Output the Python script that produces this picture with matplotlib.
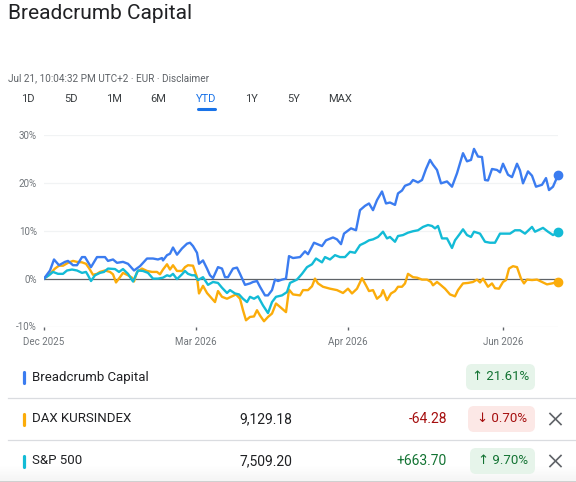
import numpy as np
import matplotlib
matplotlib.use("Agg")
import matplotlib.pyplot as plt
from matplotlib.patches import FancyBboxPatch

plt.rcParams['font.family'] = ['Roboto', 'DejaVu Sans']

# ---- data (session index, % change since start) ----
blue_x = [0, 6, 10, 15, 21, 24, 29, 33, 38, 41,
          47, 53, 61, 64, 69, 73, 79, 84, 90, 96,
          103, 109, 114, 118, 119, 123, 126, 129, 133, 138,
          143, 146, 149, 153, 155, 159, 163, 166, 169, 174,
          178, 181, 184, 189, 193, 196, 201, 206, 209, 213,
          216, 221, 224, 228, 231, 234, 238, 242, 245, 249,
          256, 261, 264, 270, 278, 282, 289, 293, 297, 300,
          307, 312, 316, 321, 325, 329, 333, 338, 342, 346,
          351, 354, 358, 361, 366, 369, 374, 378, 382, 386,
          389, 393, 397, 403, 408, 413, 419, 423, 427, 430,
          434, 438, 441, 444, 448, 453, 456, 459, 464, 468,
          473, 476, 479, 484, 488, 492, 498, 502, 505, 509,
          514]
blue_y = [0, 1.7, 4.0, 2.8, 3.5, 3.7, 2.8, 2.8, 4.5, 4.5,
          2.4, 4.5, 4.5, 3.7, 4.0, 3.3, 3.5, 3.1, 1.7, 2.6,
          4.2, 4.2, 4.0, 4.3, 3.8, 4.9, 5.2, 6.5, 5.0, 6.3,
          7.3, 7.5, 6.8, 5.4, 3.1, 3.8, 2.1, 0.7, 0.1, 2.4,
          2.1, 0.3, 0.3, 2.1, 2.3, 1.0, -1.3, -1.0, -0.7, -0.5,
          -1.7, -3.5, -3.5, -2.4, -0.2, -0.5, -0.2, 0, 4.7, 4.3,
          4.5, 5.7, 5.1, 7.5, 6.8, 8.0, 8.6, 8.2, 7.2, 9.4,
          10.5, 10.1, 14.3, 15.2, 15.7, 14.3, 16.4, 18.2, 15.7, 15.9,
          15.4, 17.8, 18.4, 19.4, 19.8, 20.6, 20.1, 20.6, 22.9, 24.8,
          23.8, 22.7, 19.9, 20.3, 19.2, 22.0, 26.2, 24.5, 24.8, 27.1,
          25.5, 25.4, 20.6, 20.5, 22.9, 22.7, 22.2, 24.0, 21.7, 21.2,
          24.0, 22.6, 19.9, 22.4, 21.5, 19.2, 19.6, 21.0, 18.5, 19.2,
          21.61]

dax_x = [0, 6, 11, 15, 19, 24, 29, 33, 38, 42,
         45, 49, 53, 56, 61, 66, 69, 72, 76, 79,
         84, 88, 90, 93, 98, 103, 108, 113, 116, 119,
         123, 126, 129, 133, 138, 141, 144, 149, 153, 155,
         159, 163, 168, 171, 174, 178, 183, 188, 192, 196,
         199, 202, 206, 210, 213, 216, 220, 224, 228, 232,
         236, 242, 245, 249, 256, 259, 264, 268, 271, 274,
         279, 286, 293, 299, 304, 308, 313, 318, 322, 325,
         329, 333, 337, 339, 343, 347, 351, 354, 358, 361,
         364, 369, 373, 378, 383, 387, 389, 393, 396, 401,
         406, 411, 414, 419, 424, 429, 433, 436, 439, 442,
         444, 448, 451, 455, 459, 462, 465, 469, 473, 477,
         480, 483, 488, 493, 498, 503, 508, 514]
dax_y = [0, 1.0, 2.1, 2.7, 2.7, 3.3, 3.7, 3.5, 3.4, 3.1,
         2.2, 0.8, 1.0, 1.4, 1.7, 1.4, 0.9, -0.8, 0.3, 1.2,
         0.7, 0.2, -0.6, 1.4, 2.1, 1.6, 1.4, 1.4, 0.9, 1.9,
         3.0, 1.9, 2.8, 1.6, 1.6, 2.4, 2.8, 2.7, 0.3, -3.1,
         -1.5, -3.0, -4.2, -4.9, -2.6, -3.8, -4.2, -3.7, -3.3, -4.2,
         -6.6, -8.7, -8.0, -7.9, -6.6, -7.7, -8.9, -8.0, -7.3, -5.2,
         -5.9, -7.0, -2.3, -3.3, -3.5, -2.4, -2.4, -1.6, 0, -1.0,
         -1.7, -2.1, -2.4, -3.0, -2.1, -3.1, -2.1, 0.1, -1.4, -2.6,
         -2.4, -4.2, -3.5, -2.4, -4.5, -3.1, -2.6, -1.7, -1.7, -1.0,
         1.0, 0.3, 0.2, -0.2, -0.2, -0.7, -1.4, -0.7, -1.2, -2.1,
         -3.3, -3.7, -2.4, -1.0, -0.9, -0.7, -0.2, -0.8, 0, -1.0,
         -1.7, -1.0, -2.0, -2.1, -0.7, -0.3, 2.1, 2.6, 2.4, 0,
         -1.0, -0.2, -0.3, -0.2, -0.7, -1.2, -1.0, -0.70]

sp_x = [0, 5, 9, 14, 19, 23, 28, 33, 38, 42,
        44, 47, 51, 56, 60, 64, 71, 75, 79, 84,
        89, 94, 99, 104, 109, 114, 119, 123, 126, 129,
        133, 138, 141, 144, 148, 151, 154, 159, 164, 169,
        174, 178, 183, 186, 191, 195, 199, 203, 206, 210,
        214, 219, 224, 228, 232, 238, 243, 246, 253, 258,
        263, 268, 272, 278, 281, 286, 291, 296, 301, 306,
        311, 316, 321, 325, 329, 334, 339, 343, 346, 351,
        354, 359, 364, 369, 374, 379, 384, 388, 391, 394,
        398, 403, 408, 411, 416, 419, 423, 427, 430, 436,
        441, 446, 451, 456, 461, 466, 471, 476, 481, 488,
        491, 494, 499, 504, 509, 514]
sp_y = [0, 0.7, 1.4, 1.0, 1.0, 1.7, 1.9, 1.7, 1.2, 1.4,
        0.7, -0.5, 0.7, 1.2, 1.4, 2.1, 2.0, 1.4, 2.0, 1.0,
        -0.6, 1.7, 1.6, 1.2, 0, 0, 0.2, 0.7, 0.5, 1.0,
        -0.1, 0.9, 1.6, 1.0, 0.7, 0.7, -0.3, 0.3, -1.3, -0.7,
        -0.9, -1.9, -3.0, -2.4, -3.1, -3.3, -4.2, -4.9, -3.8, -4.2,
        -3.7, -5.6, -7.2, -4.9, -3.8, -3.5, -2.8, -0.9, -0.2, 1.0,
        2.4, 3.0, 4.2, 3.4, 4.5, 4.0, 4.9, 4.5, 4.5, 5.6,
        5.4, 7.0, 7.5, 8.0, 8.2, 8.7, 9.8, 8.4, 8.7, 7.7,
        8.9, 9.1, 9.6, 9.9, 10.1, 10.8, 11.2, 11.0, 10.5, 11.0,
        8.4, 8.4, 6.4, 8.0, 9.4, 10.3, 9.1, 8.7, 9.8, 9.4,
        7.7, 7.5, 7.5, 9.4, 9.4, 9.4, 10.1, 10.1, 9.4, 10.8,
        9.8, 10.1, 10.6, 9.8, 9.1, 9.70]

tick_pos = [0, 152, 304, 459]
tick_labels = ["Dec 2025", "Mar 2026", "Apr 2026", "Jun 2026"]
y_ticks = [-10, 0, 10, 20, 30]

tabs = ["1D", "5D", "1M", "6M", "YTD", "1Y", "5Y", "MAX"]
tab_x = [28, 71, 114, 158, 206, 251, 294, 340]

names = ["Breadcrumb Capital", "DAX KURSINDEX", "S&P 500"]
prices = ["", "9,129.18", "7,509.20"]
changes = ["", "-64.28", "+663.70"]
pcts = ["\u2191 21.61%", "\u2193 0.70%", "\u2191 9.70%"]
ups = [True, False, True]

BLUE = "#3b7cf0"
YELLOW = "#fbac0a"
CYAN = "#13bbd6"
colors = [BLUE, YELLOW, CYAN]

fig = plt.figure(figsize=(5.76, 4.82), dpi=100)

# overlay in pixel coordinates for the page furniture
bg = fig.add_axes([0, 0, 1, 1])
bg.set_xlim(0, 576)
bg.set_ylim(482, 0)
bg.axis("off")

bg.text(8, 13.5, "Breadcrumb Capital", fontsize=15, color="#202124", va="center", ha="left")
bg.text(8, 78, "Jul 21, 10:04:32 PM UTC+2 \u00b7 EUR \u00b7 Disclaimer",
        fontsize=7.2, color="#5f6368", va="center", ha="left")
for t, x in zip(tabs, tab_x):
    c = "#1a73e8" if t == "YTD" else "#3c4043"
    bg.text(x, 99.5, t, fontsize=8, color=c, va="center", ha="center")
bg.plot([198, 215], [109, 109], color="#1a73e8", lw=2.2, solid_capstyle="round")

# legend rows
row_y = [377, 419, 461]
for i in range(3):
    y = row_y[i]
    bg.plot([23.5, 23.5], [y - 5, y + 6], color=colors[i], lw=2.3,
            solid_capstyle="round")
    bg.text(32, y, names[i], fontsize=9.5, color="#202124", va="center", ha="left")
    if prices[i]:
        bg.text(292, y, prices[i], fontsize=10, color="#202124", va="center", ha="right")
    if changes[i]:
        bg.text(447, y, changes[i], fontsize=10, color="#137333" if ups[i] else "#a50e0e",
                va="center", ha="right")
    fc = "#e6f4ea" if ups[i] else "#fce8e6"
    tc = "#137333" if ups[i] else "#a50e0e"
    x0 = 466 if i == 0 else (468 if i == 1 else 470)
    bg.add_patch(FancyBboxPatch((x0, y - 13), 535 - x0, 26,
                                boxstyle="round,pad=0,rounding_size=6",
                                fc=fc, ec="none"))
    bg.text((x0 + 536) / 2, y, pcts[i], fontsize=9.5, color=tc, va="center", ha="center")
    if i > 0:
        bg.plot([550, 561], [y - 5.5, y + 5.5], color="#5f6368", lw=1.2)
        bg.plot([550, 561], [y + 5.5, y - 5.5], color="#5f6368", lw=1.2)

for y in [398, 440]:
    bg.plot([8, 576], [y, y], color="#dadce0", lw=0.9)

# soft shadow at the bottom
grad = np.linspace(0, 1, 20).reshape(-1, 1)
bg.imshow(grad, extent=[0, 576, 480, 466], cmap="Greys", vmin=0, vmax=8, alpha=0.6,
          aspect="auto", zorder=0)
bg.plot([0, 576], [480.5, 480.5], color="#d0d0d0", lw=1)
bg.set_xlim(0, 576)
bg.set_ylim(482, 0)

# chart
ax = fig.add_axes([44 / 576, (482 - 326.5) / 482, 514 / 576, (326.5 - 135) / 482])
ax.set_facecolor("none")
for v in [10, 20, 30]:
    ax.axhline(v, color="#f1f3f4", lw=0.9, zorder=0)
ax.axhline(-10, color="#e8eaed", lw=0.9, zorder=0)
ax.axhline(0, color="#5f6368", lw=0.9, zorder=1)

ax.plot(blue_x, blue_y, color=BLUE, lw=1.7, solid_joinstyle="round", zorder=3)
ax.plot(dax_x, dax_y, color=YELLOW, lw=1.7, solid_joinstyle="round", zorder=2)
ax.plot(sp_x, sp_y, color=CYAN, lw=1.7, solid_joinstyle="round", zorder=2)
for xs, ys, c in [(blue_x, blue_y, BLUE), (dax_x, dax_y, YELLOW), (sp_x, sp_y, CYAN)]:
    ax.plot(xs[-1], ys[-1], "o", color=c, ms=6, clip_on=False, zorder=4)

ax.set_xlim(0, 514)
ax.set_ylim(-10, 30)
ax.set_yticks(y_ticks)
ax.set_yticklabels([f"{v}%" for v in y_ticks])
ax.set_xticks(tick_pos)
ax.set_xticklabels(tick_labels)
ax.tick_params(axis="y", length=0, pad=5, labelsize=7, labelcolor="#70757a")
ax.tick_params(axis="x", length=2.5, width=1, color="#5f6368", pad=5,
               labelsize=7, labelcolor="#70757a")
for s in ax.spines.values():
    s.set_visible(False)

fig.savefig("out.png", dpi=100)
